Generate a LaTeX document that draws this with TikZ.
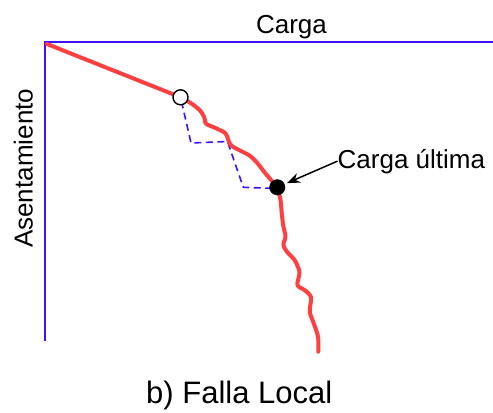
\documentclass[tikz,border=0pt]{standalone}
\usepackage{fontspec}
\setmainfont{Liberation Sans}
\usetikzlibrary{arrows.meta}
\definecolor{axisblue}{RGB}{64,16,255}
\definecolor{curvered}{RGB}{255,64,64}
\tikzset{
  axisline/.style={draw=axisblue, line width=1.8bp},
  curveline/.style={draw=curvered, line width=4bp, line join=round, line cap=round, rounded corners=3bp},
  dashline/.style={draw=axisblue, line width=1.6bp, dash pattern=on 7bp off 4.5bp},
  opendot/.style={circle, draw=black, fill=white, line width=1.4bp, minimum size=15bp, inner sep=0pt},
  filldot/.style={circle, draw=black, fill=black, minimum size=15.5bp, inner sep=0pt},
  lbl/.style={inner sep=0pt, font=\fontsize{26bp}{30bp}\selectfont},
  biglbl/.style={inner sep=0pt, font=\fontsize{31bp}{36bp}\selectfont},
  pointer/.style={draw=black, line width=1.5bp, -{Stealth[length=13bp,width=10bp]}, shorten >=2.5bp}
}
\begin{document}
\begin{tikzpicture}[x=1bp,y=-1bp]
\useasboundingbox (0,0) rectangle (493,412);
% axes
\draw[axisline] (493,42) -- (45,42) -- (45,341);
% dashed construction
\draw[dashline] (181.5,101.5) -- (191,143) -- (227.5,141.5) -- (243.3,187.3) -- (271,188.3);
% load-settlement curve
\draw[curveline] (47,44) -- (180,97) -- (191.7,103.5) -- (200.5,110.5) -- (205.5,119.5) -- (204.5,123.5)
  -- (215,127.7) -- (226,133) -- (230,145) -- (236,148.5) -- (250,155.5) -- (257,162.5)
  -- (265.5,173.5) -- (277.3,187.3) -- (280.7,200) -- (281.7,213.3) -- (283.3,226.7) -- (286,236.7)
  -- (282.7,245) -- (286.7,251.7) -- (295,260) -- (300,271.7) -- (296.7,286) -- (305,290)
  -- (311.7,296.7) -- (309.3,311.7) -- (315,326.7) -- (318.3,336.7) -- (318.3,351.7);
\node[opendot] (yield) at (180.5,97.3) {};
\node[filldot] (ult) at (277.3,187.3) {};
% labels
\node[lbl, anchor=base] (carga) at (291.5,33.3) {Carga};
\node[lbl, anchor=base, rotate=90] (asent) at (32.7,168.3) {Asentamiento};
\node[lbl, anchor=base west] (ultlbl) at (337.5,168) {Carga última};
\node[biglbl, anchor=base west] (title) at (146,403.3) {b) Falla Local};
\draw[pointer] (ultlbl.west) -- (ult);
\end{tikzpicture}
\end{document}
